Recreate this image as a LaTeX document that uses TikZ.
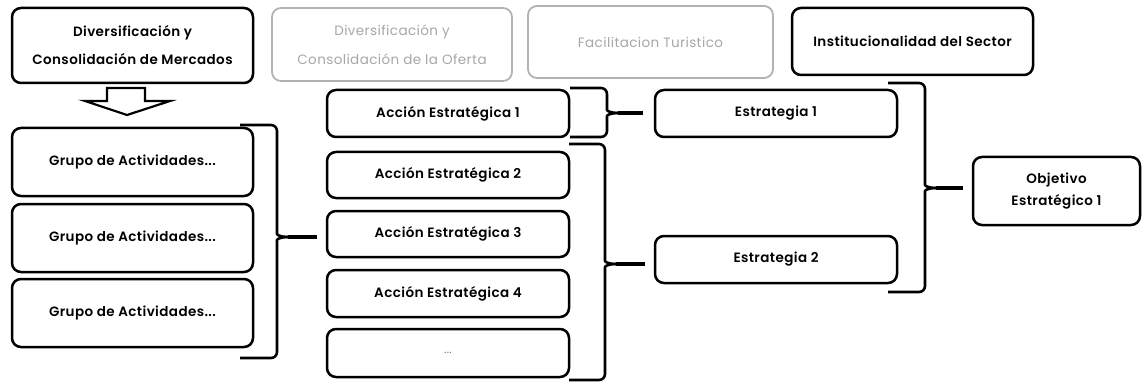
\documentclass[tikz,border=0pt]{standalone}
\usepackage{fontspec}
\setmainfont{Poppins}[UprightFont=* SemiBold,LetterSpace=3]
\newfontfamily\popreg{Poppins}[LetterSpace=3]
\begin{document}
\begin{tikzpicture}[x=1pt,y=-1pt,
  box/.style={draw=black,line width=2.5pt,rounded corners=9pt,align=center,
    font=\fontsize{13.5}{22}\selectfont,inner sep=0pt},
  ghost/.style={box,draw=black!30,text=black!35,line width=1.8pt,
    font=\popreg\fontsize{13.5}{29}\selectfont},
  bracel/.style={draw=black,line width=2.6pt,line join=round},
  arr/.style={draw=black,line width=2.2pt,fill=white,line join=miter}]
\useasboundingbox (0,0) rectangle (1142,382);
\newcommand\mybrace[6]{% x0, xv, top, bottom, tipx, tipy
  \draw[bracel,rounded corners=6pt] (#1,#3) -- (#2,#3) -- (#2,#6-9)
     .. controls (#2,#6-2) and (#2+4,#6) .. (#2+11,#6);
  \draw[bracel,line width=3.2pt] (#2+11,#6) -- (#5,#6);
  \draw[bracel,rounded corners=6pt] (#2+11,#6)
     .. controls (#2+4,#6) and (#2,#6+2) .. (#2,#6+9) -- (#2,#4) -- (#1,#4);
}
% top row
\node[box,font=\fontsize{13.5}{28}\selectfont,minimum width=241pt,minimum height=75pt] (t1) at (132.5,45.5)
  {Diversificación y\\Consolidación de Mercados};
\node[ghost,minimum width=240pt,minimum height=73pt] (t2) at (392,44.5)
  {Diversificación y\\Consolidación de la Oferta};
\node[ghost,minimum width=245pt,minimum height=72pt] (t3) at (650.5,42)
  {Facilitacion Turistico};
\node[box,minimum width=241pt,minimum height=67pt] (t4) at (912.5,41.5)
  {Institucionalidad del Sector};
% arrow
\draw[arr] (107,88) -- (145,88) -- (145,101) -- (170,101) -- (127,115)
  -- (85,101) -- (107,101) -- cycle;
% groups
\foreach \n/\y in {g1/162,g2/238,g3/313}
  \node[box,minimum width=241pt,minimum height=68pt] (\n) at (132.5,\y)
    {Grupo de Actividades...};
% acciones
\node[box,minimum width=242pt,minimum height=47pt] (a1) at (448,113.5) {Acción Estratégica 1};
\node[box,minimum width=242pt,minimum height=46pt] (a2) at (448,175) {Acción Estratégica 2};
\node[box,minimum width=242pt,minimum height=46pt] (a3) at (448,234) {Acción Estratégica 3};
\node[box,minimum width=242pt,minimum height=47pt] (a4) at (448,293.5) {Acción Estratégica 4};
\node[box,minimum width=242pt,minimum height=48pt,text=black!55,
  font=\popreg\fontsize{11}{14}\selectfont] (a5) at (448,353) {...};
% estrategias
\node[box,minimum width=242pt,minimum height=47pt] (e1) at (776,113.5) {Estrategia 1};
\node[box,minimum width=242pt,minimum height=47pt] (e2) at (776,259.5) {Estrategia 2};
% objetivo
\node[box,minimum width=167pt,minimum height=68pt] (o1) at (1056.5,191) {Objetivo\\Estratégico 1};
% braces
\mybrace{240}{277}{125}{358}{317}{237}
\mybrace{570}{607}{88}{137}{643}{113}
\mybrace{569}{605}{144}{380}{645}{264}
\mybrace{888}{925}{83}{292}{963}{188}
\end{tikzpicture}
\end{document}
